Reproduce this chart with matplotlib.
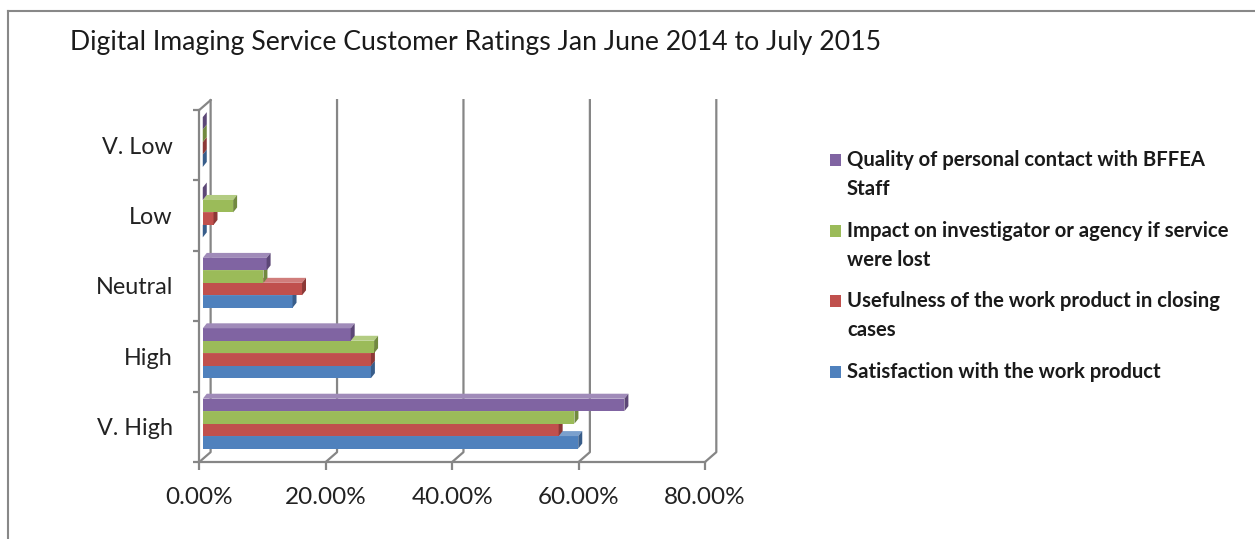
import numpy as np
import matplotlib
matplotlib.use("Agg")
import matplotlib.pyplot as plt
from matplotlib.patches import Polygon, Rectangle
from matplotlib.lines import Line2D

plt.rcParams['font.family'] = ['Lato', 'DejaVu Sans']

# ---------- data ----------
title = "Digital Imaging Service Customer Ratings Jan June 2014 to July 2015"
categories = ["V. High", "High", "Neutral", "Low", "V. Low"]
series = ["Satisfaction with the work product",
          "Usefulness of the work product in closing cases",
          "Impact on investigator or agency if service were lost",
          "Quality of personal contact with BFFEA Staff"]
legend_labels = ["Satisfaction with the work product",
                 "Usefulness of the work product in closing\ncases",
                 "Impact on investigator or agency if service\nwere lost",
                 "Quality of personal contact with BFFEA\nStaff"]
satisfaction = [59.4, 26.6, 14.2, 0.0, 0.0]
usefulness   = [56.3, 26.6, 15.7, 1.7, 0.0]
impact       = [58.8, 27.1, 9.6, 4.8, 0.0]
quality      = [66.7, 23.4, 10.1, 0.0, 0.0]
xticks = [0, 20, 40, 60, 80]
# --------------------------

values = [satisfaction, usefulness, impact, quality]
front = ['#4F81BD', '#C0504D', '#9BBB59', '#8064A2']
side  = ['#385D8A', '#8C3836', '#71893F', '#5C4776']
top   = ['#7BA0CD', '#D07D7B', '#B3CC82', '#A08BB9']
grey = '#868686'

W, H = 1255, 539
fig = plt.figure(figsize=(W / 100, H / 100), dpi=100)

# outer chart frame (only top and left edges in view)
fig.add_artist(Line2D([8 / W, 1], [1 - 11 / H, 1 - 11 / H], color='#888888', lw=1.5))
fig.add_artist(Line2D([8 / W, 8 / W], [0, 1 - 11 / H], color='#888888', lw=1.5))

ax = fig.add_axes([199.3 / W, (H - 462) / H, (705 - 199.3) / W, (462 - 110) / H])
ax.set_xlim(0, 80)
ax.set_ylim(-0.5, 4.5)
ax.patch.set_alpha(0)

# 3d wall offsets and bar depth (data units)
dxw, dyw = 1.79, 0.14
dxb, dyb = 0.63, 0.071
shx, shy = 0.55, 0.045
h = 0.177

for xt in xticks:
    ax.plot([xt, xt + dxw, xt + dxw], [-0.5, -0.5 + dyw, 4.5 + dyw],
            color=grey, lw=1.6, clip_on=False, zorder=1)
ax.plot([0, dxw], [4.5, 4.5 + dyw], color=grey, lw=1.6, clip_on=False, zorder=1)

ypos = np.arange(len(categories))
for j, vals in enumerate(values):
    yc = ypos + (j - 1.5) * h + shy
    ax.barh(yc, vals, height=h, left=shx, color=front[j], edgecolor='none', zorder=2 + j)
    for y, v in zip(yc, vals):
        x0, x1 = shx, shx + v
        yb, yt = y - h / 2, y + h / 2
        ax.add_patch(Polygon([(x0, yt), (x1, yt), (x1 + dxb, yt + dyb), (x0 + dxb, yt + dyb)],
                             closed=True, color=top[j], lw=0, zorder=2 + j))
        ax.add_patch(Polygon([(x1, yb), (x1 + dxb, yb + dyb), (x1 + dxb, yt + dyb), (x1, yt)],
                             closed=True, color=side[j], lw=0, zorder=2 + j))

for s in ['top', 'right']:
    ax.spines[s].set_visible(False)
for s in ['left', 'bottom']:
    ax.spines[s].set_color(grey)
    ax.spines[s].set_linewidth(1.6)

ax.set_xticks(xticks)
ax.set_xticklabels(["%.2f%%" % v for v in xticks], fontsize=17.5, color='#222222')
ax.tick_params(axis='x', direction='out', length=6, width=1.6, color=grey, pad=12)
ax.set_yticks(np.arange(-0.5, 5, 1))
ax.set_yticklabels([])
ax.set_yticks(ypos, minor=True)
ax.set_yticklabels(categories, minor=True, fontsize=16.8, color='#222222')
ax.tick_params(axis='y', which='major', direction='out', length=4.5, width=1.6, color=grey)
ax.tick_params(axis='y', which='minor', length=0, pad=19)

fig.text(70 / W, 1 - 50 / H, title, fontsize=19.2, va='baseline', ha='left', color='#1a1a1a')

# legend, drawn in reverse order like the original
leg_y = [160, 231, 301, 372]
for k, idx in enumerate([3, 2, 1, 0]):
    yc = leg_y[k]
    fig.add_artist(Rectangle((830 / W, 1 - (yc + 6) / H), 11 / W, 12 / H,
                             color=front[idx], lw=0))
    fig.text(847 / W, 1 - (yc - 10) / H, legend_labels[idx], fontsize=14.6,
             fontweight='bold', va='top', ha='left', linespacing=1.58, color='#1a1a1a')

fig.savefig("out.png", dpi=100)
